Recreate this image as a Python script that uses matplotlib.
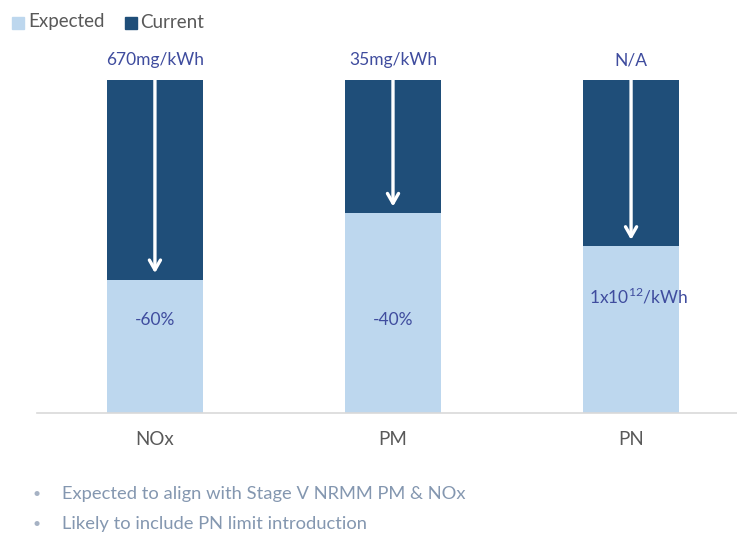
import matplotlib.pyplot as plt
from matplotlib.patches import Rectangle

categories = ['NOx', 'PM', 'PN']
expected = [40, 60, 50]
current = [60, 40, 50]
top_labels = ['670mg/kWh', '35mg/kWh', 'N/A']
inner_labels = ['-60%', '-40%', r'1x10$^{12}$/kWh']
bullets = ['Expected to align with Stage V NRMM PM & NOx',
           'Likely to include PN limit introduction']

light = '#BDD7EE'
dark = '#1F4E79'
lbl_col = '#3F4C9E'
grey = '#595959'

plt.rcParams['font.family'] = ['Lato', 'DejaVu Sans']
plt.rcParams['mathtext.fontset'] = 'custom'
plt.rcParams['mathtext.rm'] = 'Lato'

fig = plt.figure(figsize=(7.37, 5.34), dpi=100)
ax = fig.add_axes([0.05, 0.2266, 0.95, 0.6236])

x = list(range(len(categories)))
ax.bar(x, expected, width=0.4, color=light, edgecolor='none')
ax.bar(x, current, bottom=expected, width=0.4, color=dark, edgecolor='none')

for i in x:
    tot = expected[i] + current[i]
    ax.annotate('', xy=(i, expected[i] + 2), xytext=(i, tot),
                arrowprops=dict(arrowstyle='->,head_length=0.7,head_width=0.4',
                                color='white', lw=2.4, shrinkA=0, shrinkB=0))
    ax.text(i, tot + 6, top_labels[i], ha='center', va='center',
            color=lbl_col, fontsize=12.5)
ax.text(0, expected[0] - 12, inner_labels[0], ha='center', va='center', color=lbl_col, fontsize=12.5)
ax.text(1, expected[1] - 32, inner_labels[1], ha='center', va='center', color=lbl_col, fontsize=12.5)
ax.text(2.03, expected[2] - 15, inner_labels[2], ha='center', va='center', color=lbl_col, fontsize=12.5)

ax.set_xlim(-0.496, 2.445)
ax.set_ylim(0, 100)
ax.set_xticks(x)
ax.set_xticklabels(categories, fontsize=13.5, color=grey)
ax.tick_params(axis='x', length=0, pad=13)
ax.set_yticks([])
for s in ['top', 'right', 'left']:
    ax.spines[s].set_visible(False)
ax.spines['bottom'].set_color('#D9D9D9')
ax.spines['bottom'].set_linewidth(1.2)

# legend
fig.patches.append(Rectangle((12 / 737, 1 - 29 / 534), 12 / 737, 12 / 534,
                             transform=fig.transFigure, color=light))
fig.text(28 / 737, 1 - 22 / 534, 'Expected', color=grey, fontsize=13.5, va='center')
fig.patches.append(Rectangle((125 / 737, 1 - 29 / 534), 12 / 737, 12 / 534,
                             transform=fig.transFigure, color=dark))
fig.text(140 / 737, 1 - 22 / 534, 'Current', color=grey, fontsize=13.5, va='center')

# bullet notes
for j, b in enumerate(bullets):
    yy = 1 - (494 + 30 * j) / 534
    fig.text(37 / 737, yy, '\u2022', color='#A6B2C4', fontsize=10, va='center', ha='center')
    fig.text(62 / 737, yy, b, color='#8497B0', fontsize=13.2, va='center')

fig.savefig('out.png', dpi=100)
